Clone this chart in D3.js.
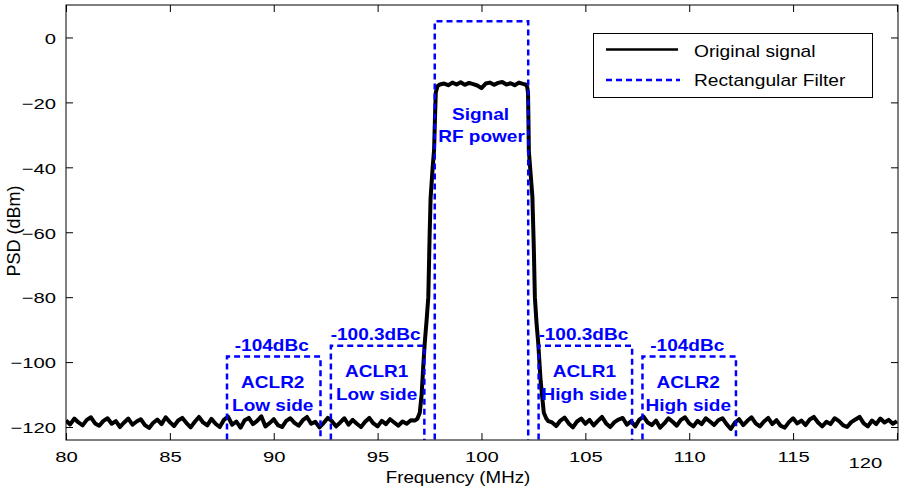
<!DOCTYPE html>
<html>
<head>
<meta charset="utf-8">
<script src="https://cdn.jsdelivr.net/npm/d3@7"></script>
<style>
  body { margin: 0; background: #fff; }
  svg text { font-family: "Liberation Sans", Arial, sans-serif; }
</style>
</head>
<body>
<div id="main"></div>
<script>
// ---- data ----
const xTicks = [80, 85, 90, 95, 100, 105, 110, 115, 120];
const yTicks = [0, -20, -40, -60, -80, -100, -120];

// noise floor below the channel, one sample every 0.2 MHz from 80 MHz
const lowStart = 80.0, noiseStep = 0.2;
const lowNoise = [
  -118.0,-119.2,-117.4,-118.6,-119.5,-117.8,-117.0,-118.9,-119.6,-118.1,
  -117.3,-119.0,-118.2,-120.0,-118.6,-117.4,-119.3,-118.3,-117.6,-119.4,
  -120.3,-118.7,-117.7,-119.1,-117.0,-118.5,-119.7,-118.0,-117.2,-118.8,
  -120.1,-118.4,-116.9,-118.6,-119.5,-117.5,-119.0,-120.0,-117.8,-116.8,
  -119.3,-118.3,-120.2,-117.9,-117.2,-119.1,-118.1,-116.7,-119.8,-118.8,
  -117.6,-119.4,-120.0,-118.1,-117.3,-118.7,-119.6,-117.9,-116.9,-119.0,
  -118.4,-120.1,-118.8,-117.2,-118.2,-119.8,-118.6,-117.3,-119.3,-117.8,
  -119.0,-120.0,-118.4,-117.2,-118.9,-119.8,-118.1,-119.1,-117.6,-118.6,
  -119.6,-118.3,-119.0,-117.9
];
// rising edge [MHz, dBm]
const riseEdge = [
  [96.8,-118.0],[96.92,-117.4],[97.03,-115.6],[97.12,-110.0],[97.2,-101.0],
  [97.27,-94.0],[97.36,-87.0],[97.44,-80.0],[97.5,-62.0],[97.55,-49.5],
  [97.65,-40.0],[97.72,-34.5],[97.76,-25.0],[97.8,-17.0],[97.88,-15.0],[98.0,-14.5]
];
// flat top, every 0.2 MHz from 98.2 MHz
const topStart = 98.2;
const topLevel = [
  -14.2,-14.7,-13.9,-14.5,-13.8,-14.6,-14.0,-14.4,-14.8,-15.6,
  -14.2,-13.9,-14.6,-14.0,-13.7,-14.5,-14.1,-14.7,-13.9,-14.3
];
// falling edge [MHz, dBm]
const fallEdge = [
  [102.12,-14.5],[102.2,-15.2],[102.24,-17.0],[102.26,-25.0],[102.28,-35.0],
  [102.45,-49.0],[102.52,-65.0],[102.57,-80.0],[102.65,-88.0],[102.73,-94.0],
  [102.85,-106.0],[103.0,-115.6],[103.12,-117.4],[103.22,-118.2]
];
// noise floor above the channel, every 0.2 MHz from 103.4 MHz
const highStart = 103.4;
const highNoise = [
  -118.6,-119.7,-118.0,-117.1,-118.9,-120.1,-118.3,-117.4,-119.0,-117.8,
  -119.5,-118.1,-116.9,-118.9,-120.0,-118.5,-117.7,-117.2,-119.3,-118.2,
  -119.8,-117.7,-116.8,-118.6,-119.4,-118.0,-120.2,-118.9,-117.3,-118.4,
  -119.6,-117.8,-117.0,-118.9,-119.8,-118.1,-119.1,-117.3,-118.3,-119.4,
  -117.9,-117.3,-119.1,-120.6,-118.6,-117.6,-119.4,-118.1,-117.0,-118.9,
  -119.8,-118.3,-117.2,-119.1,-117.9,-119.6,-120.2,-118.5,-117.3,-118.9,
  -118.0,-119.4,-117.7,-116.9,-118.6,-119.8,-118.4,-119.1,-117.3,-118.1,
  -119.4,-120.0,-118.5,-117.7,-116.9,-118.9,-119.8,-118.0,-119.1,-117.4,
  -118.6,-117.8,-119.0,-118.2
];

// rectangular filters: [f low, f high, top dBm]
const filters = [
  [87.75, 92.25, -98.3],
  [92.75, 97.25, -95.0],
  [97.75, 102.25, 5.0],
  [102.75, 107.25, -95.0],
  [107.75, 112.25, -98.3]
];
// annotations: text lines, centre frequency, dBm of the box top
const aclrNames = [
  { f: 90.0, lines: ["ACLR2", "Low side"], dbc: "-104dBc", top: -98.3 },
  { f: 95.0, lines: ["ACLR1", "Low side"], dbc: "-100.3dBc", top: -95.0 },
  { f: 105.0, lines: ["ACLR1", "High side"], dbc: "-100.3dBc", top: -95.0 },
  { f: 110.0, lines: ["ACLR2", "High side"], dbc: "-104dBc", top: -98.3 }
];
const centreLines = ["Signal", "RF power"];
const legendNames = ["Original signal", "Rectangular Filter"];

// ---- layout ----
const ctx = {
  width: 903,
  height: 489,
  left: 66,
  right: 898,
  top: 5,
  bottom: 440,
  blue: "#0000ff"
};

function buildSignal(){
  let pts = [];
  lowNoise.forEach((v, i) => pts.push([lowStart + i * noiseStep, v]));
  riseEdge.forEach(p => pts.push(p));
  topLevel.forEach((v, i) => pts.push([topStart + i * noiseStep, v]));
  fallEdge.forEach(p => pts.push(p));
  highNoise.forEach((v, i) => pts.push([highStart + i * noiseStep, v]));
  return pts;
}

function stretchedText(g, x, y, s, size, sx, anchor){
  return g.append("text")
    .attr("transform", "translate(" + x + "," + y + ") scale(" + sx + ",1)")
    .attr("text-anchor", anchor || "middle")
    .attr("font-size", size + "px")
    .text(s);
}

function createViz(){
  let svg = d3.select("#main").append("svg")
    .attr("width", ctx.width)
    .attr("height", ctx.height);

  let x = d3.scaleLinear().domain([80, 120.05]).range([ctx.left, ctx.right]);
  let y = d3.scaleLinear().domain([-124, 10]).range([ctx.bottom, ctx.top]);

  svg.append("defs").append("clipPath").attr("id", "plotClip")
    .append("rect")
    .attr("x", ctx.left).attr("y", ctx.top)
    .attr("width", ctx.right - ctx.left).attr("height", ctx.bottom - ctx.top);

  let plot = svg.append("g").attr("clip-path", "url(#plotClip)");

  // signal
  plot.append("path")
    .datum(buildSignal())
    .attr("fill", "none")
    .attr("stroke", "#000")
    .attr("stroke-width", 4)
    .attr("stroke-linejoin", "round")
    .attr("d", d3.line().x(d => x(d[0])).y(d => y(d[1])));

  // filters
  let filterLine = d3.line().x(d => x(d[0])).y(d => y(d[1]));
  plot.selectAll(".filter")
    .data(filters)
    .enter()
    .append("path")
    .attr("class", "filter")
    .attr("fill", "none")
    .attr("stroke", ctx.blue)
    .attr("stroke-width", 2.5)
    .attr("stroke-dasharray", "6,4")
    .attr("d", d => filterLine([[d[0], -130], [d[0], d[2]], [d[1], d[2]], [d[1], -130]]));

  // axes
  let axG = svg.append("g");
  let xAxis = axG.append("g")
    .attr("transform", "translate(0," + ctx.bottom + ")")
    .call(d3.axisBottom(x).tickValues(xTicks).tickSizeInner(-7).tickSizeOuter(0).tickPadding(11));
  xAxis.selectAll("text")
    .attr("font-size", "15px")
    .attr("font-family", "Liberation Sans, Arial, sans-serif")
    .attr("fill", "#000")
    .attr("transform", "scale(1.35,1)");
  // the 120 label sits lower and further left in the original
  xAxis.selectAll(".tick").filter(d => d === 120).select("text")
    .attr("transform", "translate(-32,6) scale(1.35,1)");

  axG.append("g")
    .attr("transform", "translate(0," + ctx.top + ")")
    .call(d3.axisTop(x).tickValues(xTicks).tickSizeInner(-7).tickSizeOuter(0).tickFormat(""));

  let yAxis = axG.append("g")
    .attr("transform", "translate(" + ctx.left + ",0)")
    .call(d3.axisLeft(y).tickValues(yTicks).tickSizeInner(-7).tickSizeOuter(0));
  yAxis.selectAll("text")
    .attr("x", 0)
    .attr("font-size", "15px")
    .attr("font-family", "Liberation Sans, Arial, sans-serif")
    .attr("fill", "#000")
    .attr("transform", "translate(-10,1) scale(1.35,1)");

  axG.append("g")
    .attr("transform", "translate(" + ctx.right + ",0)")
    .call(d3.axisRight(y).tickValues(yTicks).tickSizeInner(-7).tickSizeOuter(0).tickFormat(""));

  axG.selectAll(".domain").remove();
  axG.selectAll(".tick line").attr("stroke", "#000");

  svg.append("rect")
    .attr("x", ctx.left).attr("y", ctx.top)
    .attr("width", ctx.right - ctx.left).attr("height", ctx.bottom - ctx.top)
    .attr("fill", "none")
    .attr("stroke", "#000")
    .attr("stroke-width", 1);

  // axis titles
  stretchedText(svg, 458, 483, "Frequency (MHz)", 16, 1.17);
  svg.append("text")
    .attr("transform", "translate(20,231) rotate(-90)")
    .attr("text-anchor", "middle")
    .attr("font-size", "18px")
    .text("PSD (dBm)");

  // annotations
  let notes = svg.append("g").attr("fill", ctx.blue).attr("font-weight", "bold");
  aclrNames.forEach(a => {
    stretchedText(notes, x(a.f) - 2, y(a.top) - 6, a.dbc, 17, 1.12);
    stretchedText(notes, x(a.f) - 1, y(a.top) + 31, a.lines[0], 17, 1.12);
    stretchedText(notes, x(a.f) - 1, y(a.top) + 54, a.lines[1], 17, 1.12);
  });
  stretchedText(notes, x(100) - 1, 120, centreLines[0], 17, 1.12);
  stretchedText(notes, x(100) - 0, 142, centreLines[1], 17, 1.12);

  // legend
  let leg = svg.append("g");
  leg.append("rect")
    .attr("x", 593.5).attr("y", 33.5)
    .attr("width", 279).attr("height", 64)
    .attr("fill", "#fff")
    .attr("stroke", "#000")
    .attr("stroke-width", 1);
  leg.append("line")
    .attr("x1", 606).attr("x2", 678).attr("y1", 49.5).attr("y2", 49.5)
    .attr("stroke", "#000").attr("stroke-width", 2.5);
  leg.append("line")
    .attr("x1", 606).attr("x2", 680).attr("y1", 80).attr("y2", 80)
    .attr("stroke", ctx.blue).attr("stroke-width", 2.5)
    .attr("stroke-dasharray", "6,4");
  stretchedText(leg, 694, 57, legendNames[0], 16, 1.2, "start");
  stretchedText(leg, 694, 85.5, legendNames[1], 16, 1.2, "start");
}

createViz();
</script>
</body>
</html>
